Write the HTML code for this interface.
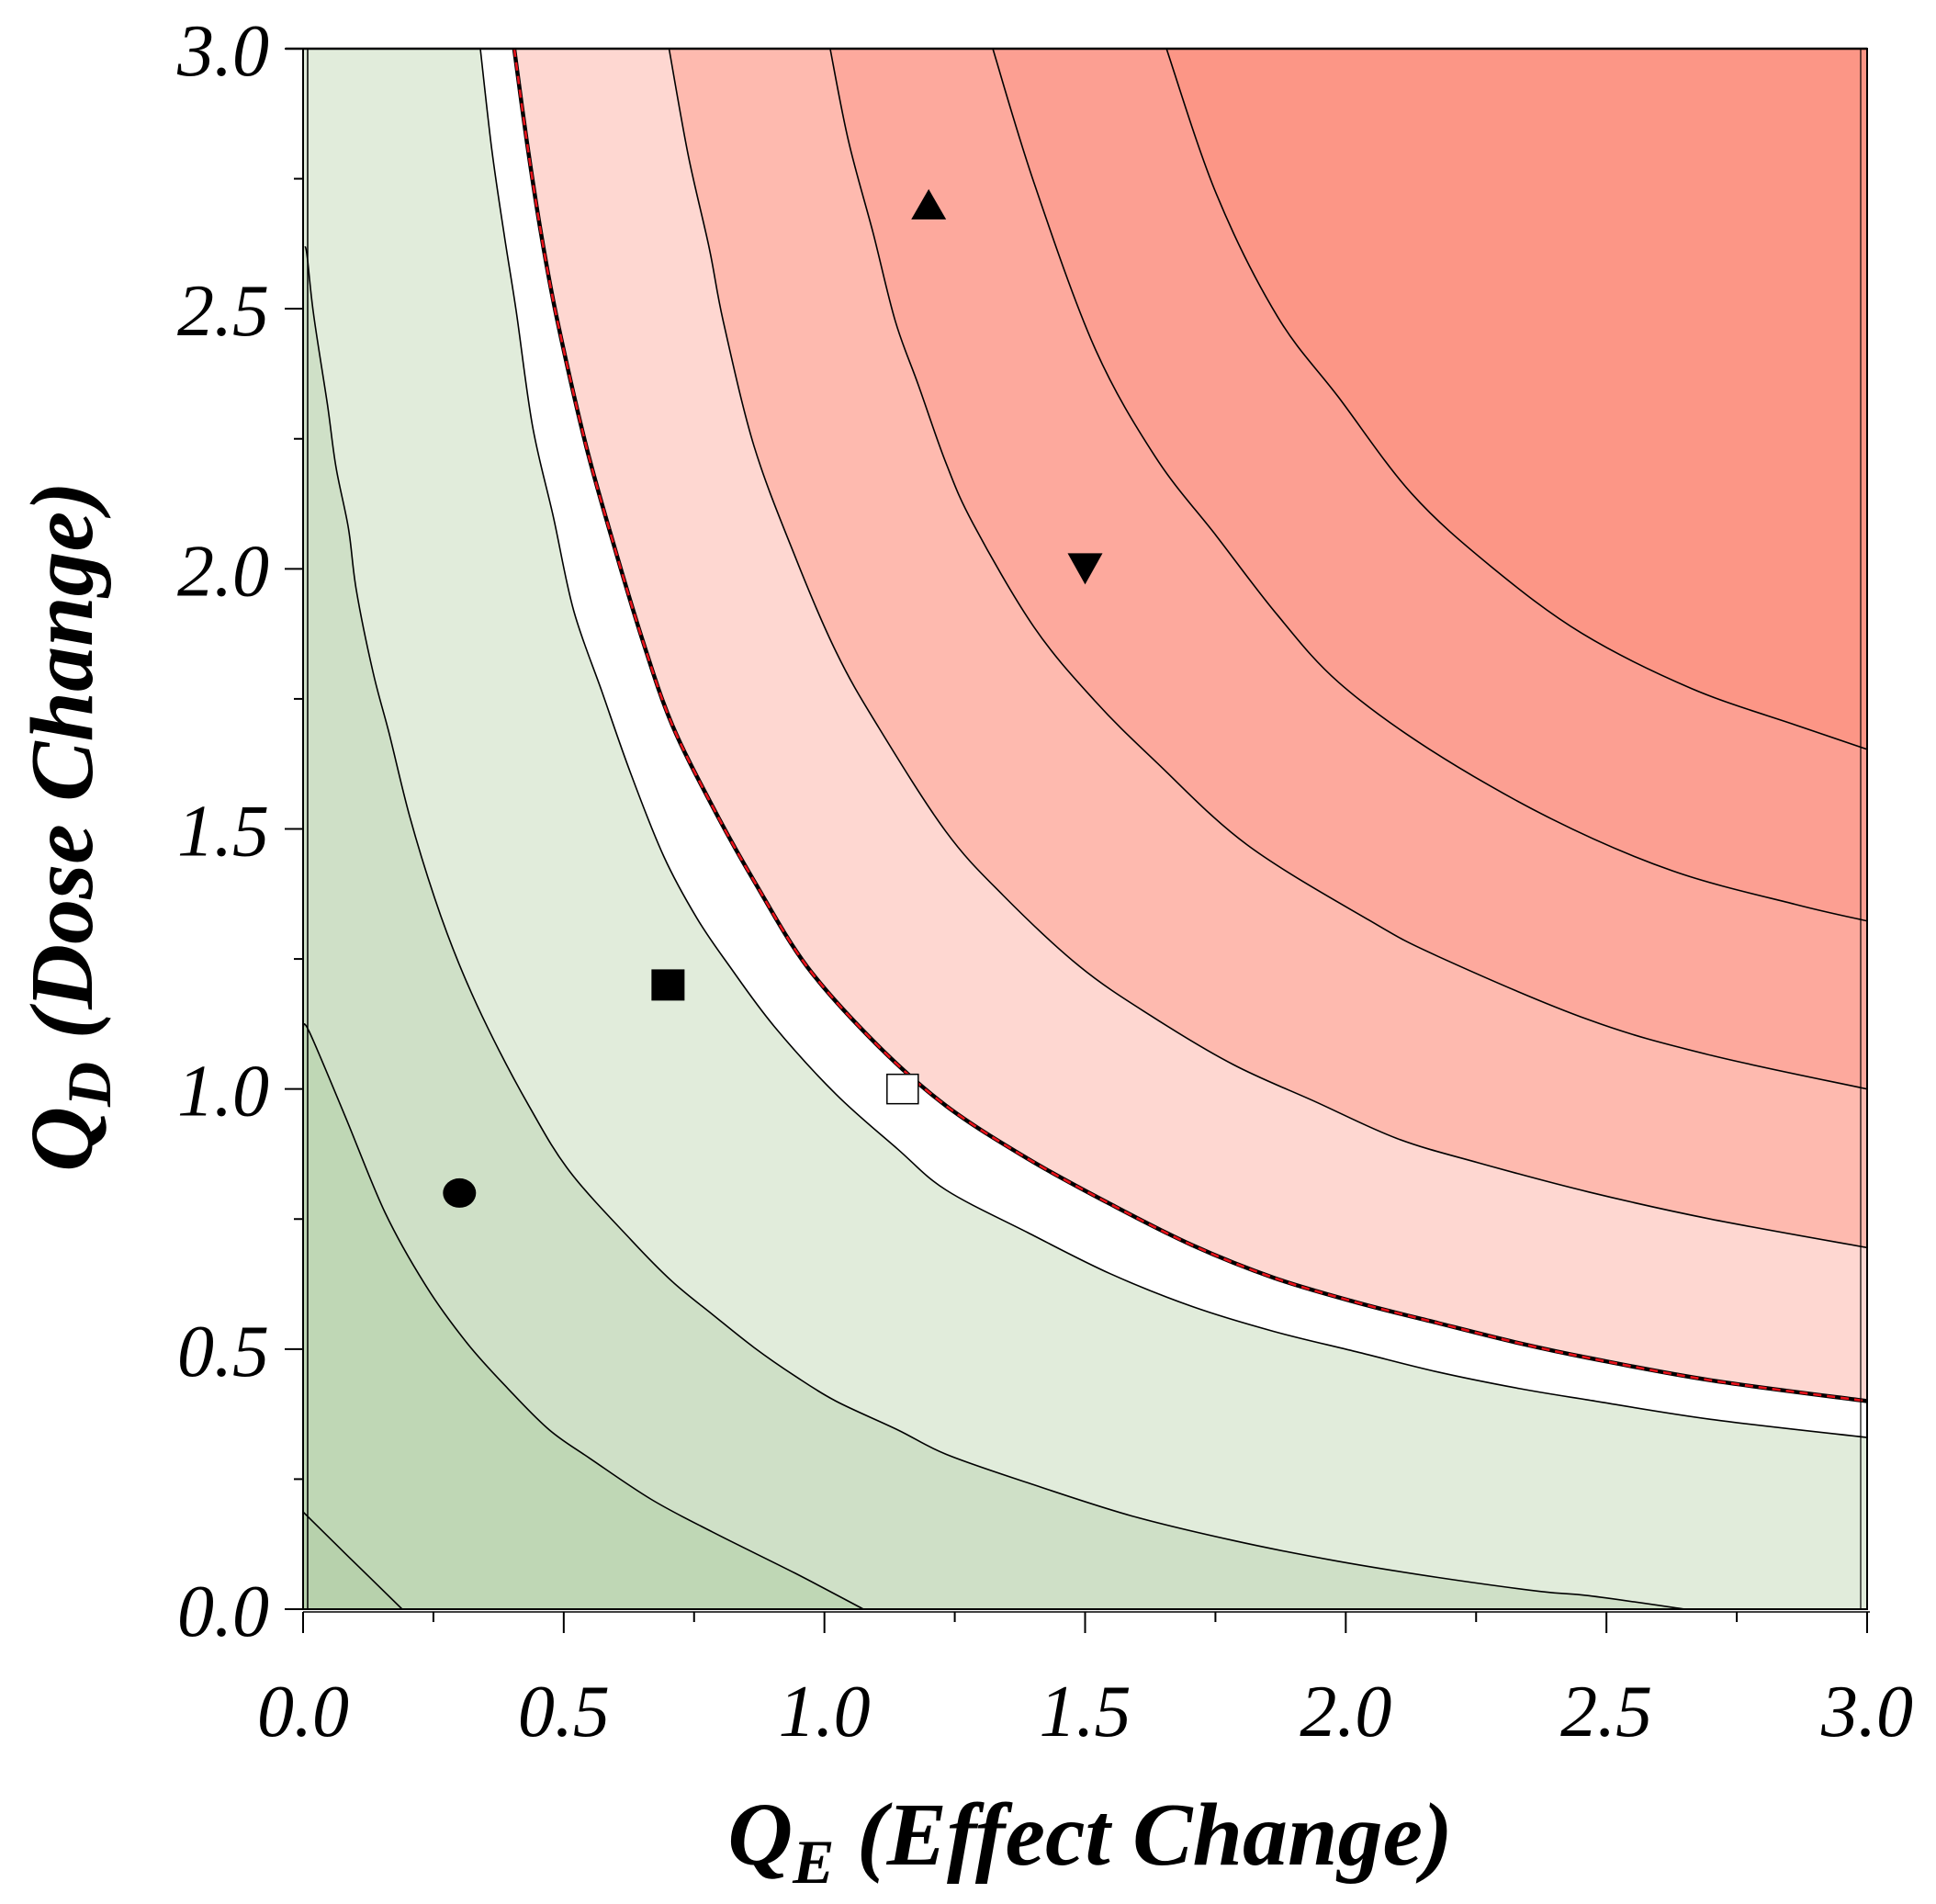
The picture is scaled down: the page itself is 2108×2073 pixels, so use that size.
<!DOCTYPE html>
<html><head><meta charset="utf-8"><style>
html,body{margin:0;padding:0;background:#fff;}
svg{display:block;}
text{font-family:"Liberation Serif",serif;font-style:italic;fill:#000;}
</style></head><body>
<svg id="chart" width="2108" height="2073" viewBox="0 0 2108 2073" xmlns="http://www.w3.org/2000/svg">
<g id="fills"></g>
<g id="lines"></g>
<g id="frame"></g>
<g id="markers"></g>
<g id="axes"></g>
<text x="1187" y="2030" text-anchor="middle" font-size="98" font-weight="bold">Q<tspan font-size="68" dy="20">E</tspan><tspan dy="-20"> (Effect Change)</tspan></text>
<text transform="translate(100,900) rotate(-90)" text-anchor="middle" font-size="98" font-weight="bold">Q<tspan font-size="68" dy="20">D</tspan><tspan dy="-20"> (Dose  Change)</tspan></text>
</svg>
<script>
// contour lines (data coords)
const c1x=[0,0.079,0.19];
const c1y=[0.187,0.109,0];
const c2x=[0,0.012,0.079,0.157,0.236,0.315,0.393,0.472,0.55,0.668,0.786,0.944,1.075];
const c2y=[1.12,1.11,0.952,0.763,0.621,0.511,0.424,0.345,0.29,0.211,0.148,0.069,0];
const c3x=[0.004,0.008,0.02,0.047,0.063,0.087,0.102,0.134,0.165,0.204,0.252,0.299,0.354,0.433,0.511,0.629,0.708,0.786,0.865,0.944,1.022,1.14,1.233,1.39,1.587,1.784,1.98,2.177,2.373,2.466,2.65];
const c3y=[2.62,2.6,2.49,2.314,2.196,2.078,1.96,1.802,1.684,1.526,1.368,1.241,1.118,0.968,0.842,0.71,0.63,0.566,0.503,0.448,0.40,0.345,0.298,0.243,0.18,0.132,0.093,0.061,0.034,0.026,0];
const c4x=[0.34,0.362,0.385,0.409,0.44,0.48,0.519,0.574,0.629,0.692,0.755,0.818,0.904,1.022,1.14,1.233,1.39,1.548,1.705,1.862,2.02,2.177,2.334,2.466,2.7,3.0];
const c4y=[3,2.806,2.647,2.494,2.275,2.1,1.92,1.762,1.605,1.447,1.329,1.236,1.12,0.99,0.885,0.806,0.724,0.645,0.582,0.534,0.495,0.456,0.424,0.402,0.365,0.33];
const c5x=[0.405,0.429,0.456,0.488,0.543,0.598,0.653,0.708,0.786,0.865,0.967,1.1,1.233,1.39,1.548,1.705,1.862,2.02,2.177,2.334,2.466,2.7,3.0];
const c5y=[3,2.823,2.647,2.476,2.236,2.039,1.857,1.7,1.542,1.4,1.235,1.086,0.968,0.866,0.779,0.7,0.637,0.59,0.55,0.511,0.483,0.44,0.40];
const c6x=[0.702,0.739,0.779,0.806,0.865,0.944,1.022,1.101,1.233,1.343,1.489,1.626,1.784,1.941,2.098,2.255,2.466,2.7,3.0];
const c6y=[3,2.794,2.617,2.476,2.236,2.023,1.841,1.7,1.495,1.372,1.236,1.141,1.047,0.976,0.905,0.858,0.802,0.75,0.695];
const c7x=[1.011,1.046,1.093,1.136,1.18,1.233,1.285,1.402,1.518,1.635,1.81,2.044,2.177,2.466,2.7,3.0];
const c7y=[3,2.823,2.647,2.476,2.354,2.204,2.087,1.888,1.747,1.63,1.47,1.325,1.255,1.133,1.065,1.0];
const c8x=[1.323,1.402,1.518,1.635,1.752,1.869,1.986,2.161,2.395,2.628,2.862,3.0];
const c8y=[3.0,2.742,2.426,2.215,2.063,1.911,1.782,1.653,1.519,1.419,1.355,1.323];
const c9x=[1.656,1.752,1.869,1.986,2.126,2.278,2.453,2.663,2.862,3.0];
const c9y=[3.0,2.72,2.485,2.33,2.145,2.005,1.876,1.77,1.70,1.653];
const markerX=[0.3,0.7,1.15,1.2,1.5];
const markerY=[0.8,1.2,1.0,2.7,2.0];
const markerType=['circle','square','open-square','triangle-up','triangle-down'];
const xTicks=['0.0','0.5','1.0','1.5','2.0','2.5','3.0'];
const yTicks=['0.0','0.5','1.0','1.5','2.0','2.5','3.0'];

const NS='http://www.w3.org/2000/svg';
const X0=330,X1=2033,Y0=1752,Y1=53;
const sx=v=>X0+v/3*(X1-X0);
const sy=v=>Y0-v/3*(Y0-Y1);
function mk(tag,attrs,parent){const e=document.createElementNS(NS,tag);for(const k in attrs)e.setAttribute(k,attrs[k]);parent.appendChild(e);return e;}
const fills=document.getElementById('fills'),lines=document.getElementById('lines');
const curves=[[c1x,c1y],[c2x,c2y],[c3x,c3y],[c4x,c4y],[c5x,c5y],[c6x,c6y],[c7x,c7y],[c8x,c8y],[c9x,c9y]];
const colors=['#bfd7b5','#cfe0c7','#e1ecdb','#ffffff','#fed7d1','#febaaf','#fda99d','#fc9f92','#fc9686'];
const bg=mk('rect',{x:X0,y:Y1,width:X1-X0,height:Y0-Y1,fill:'#b7d1ac'},fills);


function smooth(cx,cy){
  const P=cx.map((v,i)=>[sx(v),sy(cy[i])]);
  let d='M'+P[0][0].toFixed(1)+','+P[0][1].toFixed(1);
  for(let i=0;i<P.length-1;i++){
    const p0=P[Math.max(i-1,0)],p1=P[i],p2=P[i+1],p3=P[Math.min(i+2,P.length-1)];
    const a=[p1[0]+(p2[0]-p0[0])/6,p1[1]+(p2[1]-p0[1])/6];
    const b=[p2[0]-(p3[0]-p1[0])/6,p2[1]-(p3[1]-p1[1])/6];
    d+=' C'+a[0].toFixed(1)+','+a[1].toFixed(1)+' '+b[0].toFixed(1)+','+b[1].toFixed(1)+' '+p2[0].toFixed(1)+','+p2[1].toFixed(1);
  }
  return d;
}
curves.forEach((c,i)=>{
  const [cx,cy]=c;
  let d=smooth(cx,cy);
  const endY=cy[cy.length-1];
  if(endY<=0.001){d+=' L'+sx(3)+','+sy(0);}
  d+=' L'+sx(3)+','+sy(3);
  if(cx[0]<0.01){d+=' L'+sx(0)+','+sy(3)+' L'+sx(0)+','+sy(cy[0]);}
  d+=' Z';
  const poly=mk('path',{d:d,fill:colors[i]},fills);
  
  
});
curves.forEach((c,i)=>{
  const d=smooth(c[0],c[1]);
  if(i===4){
    const a=mk('path',{d:d,fill:'none',stroke:'#000','stroke-width':4.5},lines);
    
    
    const b=mk('path',{d:d,fill:'none',stroke:'#e8121a','stroke-width':2.6,'stroke-dasharray':'9 6'},lines);
    
    
  } else {
    const l=mk('path',{d:d,fill:'none',stroke:'#000','stroke-width':1.6},lines);
    
    
  }
});
const frame=document.getElementById('frame');
const fr=mk('rect',{x:X0,y:Y1,width:X1-X0,height:Y0-Y1,fill:'none',stroke:'#000','stroke-width':2},frame);


const il=mk('line',{x1:X0+5,y1:Y1,x2:X0+5,y2:Y0,stroke:'#000','stroke-width':1.5},frame);


const ir=mk('line',{x1:X1-7,y1:Y1,x2:X1-7,y2:Y0,stroke:'#000','stroke-width':1.2},frame);


const ob=mk('line',{x1:X0,y1:Y0+3,x2:X1+3,y2:Y0+3,stroke:'#000','stroke-width':1.5},frame);


const tl=mk('line',{x1:311,y1:Y1,x2:X1,y2:Y1,stroke:'#000','stroke-width':2.5},frame);


const axes=document.getElementById('axes');
for(let k=0;k<=12;k++){
  const v=k*0.25,maj=k%2===0;
  const t=mk('line',{x1:sx(v),y1:Y0+3,x2:sx(v),y2:Y0+(maj?26:14),stroke:'#000','stroke-width':2},axes);
  
  
  const u=mk('line',{x1:X0,y1:sy(v),x2:X0-(maj?20:10),y2:sy(v),stroke:'#000','stroke-width':2},axes);
  
  
}
xTicks.forEach((s,i)=>{
  const t=mk('text',{x:sx(parseFloat(s)),y:1890,'text-anchor':'middle','font-size':80},axes);
  t.textContent=s;
  
  
});
yTicks.forEach((s,i)=>{
  const t=mk('text',{x:293,y:sy(parseFloat(s))+29,'text-anchor':'end','font-size':80},axes);
  t.textContent=s;
  
  
});
const mg=document.getElementById('markers');
markerType.forEach((m,i)=>{
  const x=sx(markerX[i]),y=sy(markerY[i]);let e;
  if(m==='circle')e=mk('ellipse',{cx:x,cy:y,rx:18,ry:16,fill:'#000'},mg);
  else if(m==='square')e=mk('rect',{x:x-18,y:y-17,width:36,height:34,fill:'#000'},mg);
  else if(m==='open-square')e=mk('rect',{x:x-17,y:y-16,width:34,height:32,fill:'#fff',stroke:'#000','stroke-width':1.5},mg);
  else if(m==='triangle-up')e=mk('polygon',{points:`${x-19},${y+16} ${x+19},${y+16} ${x},${y-17}`,fill:'#000'},mg);
  else e=mk('polygon',{points:`${x-19},${y-17} ${x+19},${y-17} ${x},${y+17}`,fill:'#000'},mg);
  
  
});
</script>
</body></html>
